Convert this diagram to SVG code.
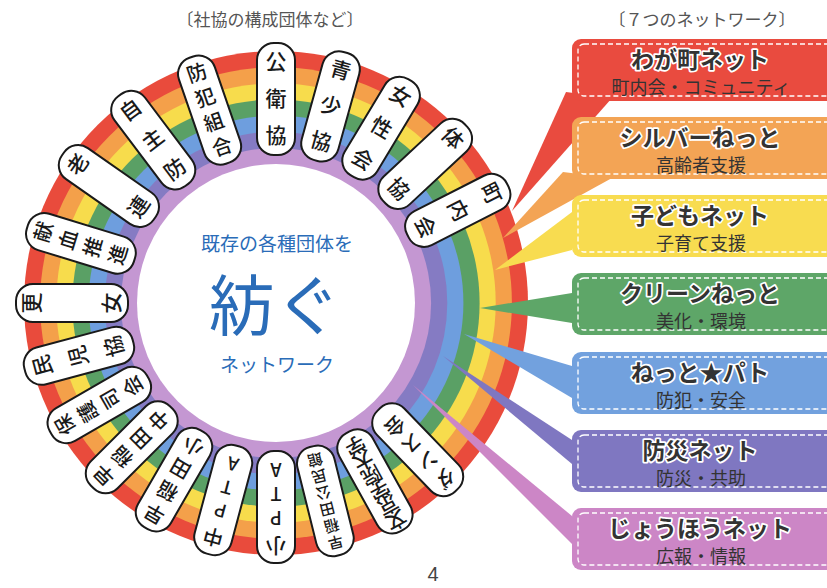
<svg xmlns="http://www.w3.org/2000/svg" xmlns:xlink="http://www.w3.org/1999/xlink" width="827" height="588" viewBox="0 0 827 588">
<style>
.hd{font-family:"Noto Sans CJK JP","Noto Sans",sans-serif;font-size:17px;fill:#555;text-anchor:middle}
.ctr{font-family:"Noto Sans CJK JP","Noto Sans",sans-serif;fill:#2a6cb8;text-anchor:middle}
.pill{fill:#fff;stroke:#1a1a1a;stroke-width:2}
.pt{font-family:"Noto Sans CJK JP","Noto Sans",sans-serif;font-weight:500;font-size:20px;fill:#1a1a1a;text-anchor:middle}
.pt3{font-size:21px}
.pt6{font-size:15px}
.lat{font-size:18px}
.bt{font-family:"Noto Sans CJK JP","Noto Sans",sans-serif;font-weight:700;font-size:23px;fill:#333;stroke:#fff;stroke-width:3.5;paint-order:stroke;stroke-linejoin:round;text-anchor:middle}
.bs{font-family:"Noto Sans CJK JP","Noto Sans",sans-serif;font-size:18px;fill:#333;text-anchor:middle}
.dash{fill:none;stroke:#fff;stroke-width:1.3;stroke-dasharray:5 3}
</style>
<defs>
<rect id="pill" x="-19" y="-56" width="38" height="112" rx="17"/>
</defs>
<rect width="827" height="588" fill="#fff"/>
<text class="hd" x="270" y="26">〔社協の構成団体など〕</text>
<text class="hd" x="702" y="26">〔７つのネットワーク〕</text>

<g id="ring">
<circle cx="276" cy="303" r="252" fill="#e94b3c"/>
<circle cx="276" cy="303" r="235.9" fill="#f4a04a"/>
<circle cx="276" cy="303" r="219.7" fill="#f7dc4c"/>
<circle cx="276" cy="303" r="203.6" fill="#5aa065"/>
<circle cx="276" cy="303" r="187.4" fill="#6e9ede"/>
<circle cx="276" cy="303" r="171.3" fill="#857bc3"/>
<circle cx="276" cy="303" r="155.1" fill="#c497d2"/>
<circle cx="276" cy="303" r="139" fill="#fff"/>
</g>

<g id="center-text">
<text class="ctr" x="277" y="251" font-size="19">既存の各種団体を</text>
<text class="ctr" x="275" y="330" font-size="66">紡ぐ</text>
<text class="ctr" x="277" y="372" font-size="19">ネットワーク</text>
</g>

<g id="connectors">
<polygon points="566,92 612,98 512,211" fill="#e94b3f"/>
<polygon points="563,172 612,178 503,238" fill="#f3a455"/>
<polygon points="572,212 572,250 495,270" fill="#f8dc50"/>
<polygon points="572,293 572,323 480,308" fill="#5ea668"/>
<polygon points="572,366 572,398 464,334" fill="#72a1de"/>
<polygon points="572,440 572,464 443,356" fill="#7f77c1"/>
<polygon points="572,516 572,544 413,385" fill="#cc86c6"/>
</g>

<g id="pills">
<g id="p-koueikyo" transform="rotate(0 276 303) translate(276 99)"><use xlink:href="#pill" class="pill"/><text class="pt pt3"><tspan x="0" y="-30">公</tspan><tspan x="0" y="7">衛</tspan><tspan x="0" y="44">協</tspan></text></g>
<g id="p-seishokyo" transform="rotate(15.5 276 303) translate(276 99)"><use xlink:href="#pill" class="pill"/><text class="pt pt3"><tspan x="0" y="-30">青</tspan><tspan x="0" y="7">少</tspan><tspan x="0" y="44">協</tspan></text></g>
<g id="p-joseikai" transform="rotate(31 276 303) translate(276 99)"><use xlink:href="#pill" class="pill"/><text class="pt pt3"><tspan x="0" y="-30">女</tspan><tspan x="0" y="7">性</tspan><tspan x="0" y="44">会</tspan></text></g>
<g id="p-taikyo" transform="rotate(47 276 303) translate(276 99)"><use xlink:href="#pill" class="pill"/><text class="pt pt3"><tspan x="0" y="-30">体</tspan><tspan x="0" y="44">協</tspan></text></g>
<g id="p-chonaikai" transform="rotate(63 276 303) translate(276 99)"><use xlink:href="#pill" class="pill"/><text class="pt pt3"><tspan x="0" y="-30">町</tspan><tspan x="0" y="7">内</tspan><tspan x="0" y="44">会</tspan></text></g>
<g id="p-dance" transform="rotate(136 276 303) translate(276 99)"><use xlink:href="#pill" class="pill"/><text class="pt"><tspan x="0" y="-32">ダ</tspan><tspan x="0" y="-8">ン</tspan><tspan x="0" y="16">ス</tspan><tspan x="0" y="40">会</tspan></text></g>
<g id="p-daigaku" transform="rotate(151 276 303) translate(276 99)"><use xlink:href="#pill" class="pill"/><text class="pt" font-size="16"><tspan x="0" y="-37">文</tspan><tspan x="0" y="-20">京</tspan><tspan x="0" y="-3">学</tspan><tspan x="0" y="14">院</tspan><tspan x="0" y="31">大</tspan><tspan x="0" y="48">学</tspan></text></g>
<g id="p-kominkan" transform="rotate(166 276 303) translate(276 99)"><use xlink:href="#pill" class="pill"/><text class="pt pt6"><tspan x="0" y="-37">早</tspan><tspan x="0" y="-20">稲</tspan><tspan x="0" y="-3">田</tspan><tspan x="0" y="14">公</tspan><tspan x="0" y="31">民</tspan><tspan x="0" y="48">館</tspan></text></g>
<g id="p-shopta" transform="rotate(180 276 303) translate(276 99)"><use xlink:href="#pill" class="pill"/><text class="pt"><tspan x="0" y="-31">小</tspan></text><text class="pt lat"><tspan x="0" y="-4">P</tspan><tspan x="0" y="20">T</tspan><tspan x="0" y="44">A</tspan></text></g>
<g id="p-chupta" transform="rotate(-165 276 303) translate(276 99)"><use xlink:href="#pill" class="pill"/><text class="pt"><tspan x="0" y="-31">中</tspan></text><text class="pt lat"><tspan x="0" y="-4">P</tspan><tspan x="0" y="20">T</tspan><tspan x="0" y="44">A</tspan></text></g>
<g id="p-wasedasho" transform="rotate(-150 276 303) translate(276 99)"><use xlink:href="#pill" class="pill"/><text class="pt"><tspan x="0" y="-32">早</tspan><tspan x="0" y="-6">稲</tspan><tspan x="0" y="20">田</tspan><tspan x="0" y="46">小</tspan></text></g>
<g id="p-wasedachu" transform="rotate(-135 276 303) translate(276 99)"><use xlink:href="#pill" class="pill"/><text class="pt"><tspan x="0" y="-32">早</tspan><tspan x="0" y="-6">稲</tspan><tspan x="0" y="20">田</tspan><tspan x="0" y="46">中</tspan></text></g>
<g id="p-hogoshikai" transform="rotate(-120 276 303) translate(276 99)"><use xlink:href="#pill" class="pill"/><text class="pt"><tspan x="0" y="-32">保</tspan><tspan x="0" y="-6">護</tspan><tspan x="0" y="20">司</tspan><tspan x="0" y="46">会</tspan></text></g>
<g id="p-minjikyo" transform="rotate(-105 276 303) translate(276 99)"><use xlink:href="#pill" class="pill"/><text class="pt pt3"><tspan x="0" y="-30">民</tspan><tspan x="0" y="7">児</tspan><tspan x="0" y="44">協</tspan></text></g>
<g id="p-kojo" transform="rotate(-90 276 303) translate(276 99)"><use xlink:href="#pill" class="pill"/><text class="pt pt3"><tspan x="0" y="-33">更</tspan><tspan x="0" y="47">女</tspan></text></g>
<g id="p-kenketsu" transform="rotate(-73 276 303) translate(276 99)"><use xlink:href="#pill" class="pill"/><text class="pt"><tspan x="0" y="-32">献</tspan><tspan x="0" y="-6">血</tspan><tspan x="0" y="20">推</tspan><tspan x="0" y="46">進</tspan></text></g>
<g id="p-roren" transform="rotate(-55 276 303) translate(276 99)"><use xlink:href="#pill" class="pill"/><text class="pt pt3"><tspan x="0" y="-30">老</tspan><tspan x="0" y="44">連</tspan></text></g>
<g id="p-jishubo" transform="rotate(-37 276 303) translate(276 99)"><use xlink:href="#pill" class="pill"/><text class="pt pt3"><tspan x="0" y="-30">自</tspan><tspan x="0" y="7">主</tspan><tspan x="0" y="44">防</tspan></text></g>
<g id="p-bohan" transform="rotate(-19 276 303) translate(276 99)"><use xlink:href="#pill" class="pill"/><text class="pt"><tspan x="0" y="-32">防</tspan><tspan x="0" y="-6">犯</tspan><tspan x="0" y="20">組</tspan><tspan x="0" y="46">合</tspan></text></g>
</g>

<g id="net-wagamachi">
<rect x="572" y="39" width="270" height="62" rx="9" fill="#e94b3f"/>
<rect class="dash" x="578" y="44" width="260" height="52" rx="6"/>
<text class="bt" x="700" y="68">わが町ネット</text>
<text class="bs" x="701" y="94">町内会・コミュニティ</text>
</g>
<g id="net-silver">
<rect x="572" y="117" width="270" height="62" rx="9" fill="#f3a455"/>
<rect class="dash" x="578" y="122" width="260" height="52" rx="6"/>
<text class="bt" x="700" y="146">シルバーねっと</text>
<text class="bs" x="701" y="172">高齢者支援</text>
</g>
<g id="net-kodomo">
<rect x="572" y="195" width="270" height="62" rx="9" fill="#f8dc50"/>
<rect class="dash" x="578" y="200" width="260" height="52" rx="6"/>
<text class="bt" x="700" y="224">子どもネット</text>
<text class="bs" x="701" y="250">子育て支援</text>
</g>
<g id="net-clean">
<rect x="572" y="273" width="270" height="62" rx="9" fill="#5ea668"/>
<rect class="dash" x="578" y="278" width="260" height="52" rx="6"/>
<text class="bt" x="700" y="302">クリーンねっと</text>
<text class="bs" x="701" y="328">美化・環境</text>
</g>
<g id="net-patrol">
<rect x="572" y="352" width="270" height="62" rx="9" fill="#72a1de"/>
<rect class="dash" x="578" y="357" width="260" height="52" rx="6"/>
<text class="bt" x="700" y="381">ねっと★パト</text>
<text class="bs" x="701" y="407">防犯・安全</text>
</g>
<g id="net-bousai">
<rect x="572" y="430" width="270" height="62" rx="9" fill="#7f77c1"/>
<rect class="dash" x="578" y="435" width="260" height="52" rx="6"/>
<text class="bt" x="700" y="459">防災ネット</text>
<text class="bs" x="701" y="485">防災・共助</text>
</g>
<g id="net-johou">
<rect x="572" y="508" width="270" height="62" rx="9" fill="#cc86c6"/>
<rect class="dash" x="578" y="513" width="260" height="52" rx="6"/>
<text class="bt" x="700" y="537">じょうほうネット</text>
<text class="bs" x="701" y="563">広報・情報</text>
</g>

<text x="433" y="581" font-family="Liberation Sans, sans-serif" font-size="20" fill="#444" text-anchor="middle">4</text>
</svg>
